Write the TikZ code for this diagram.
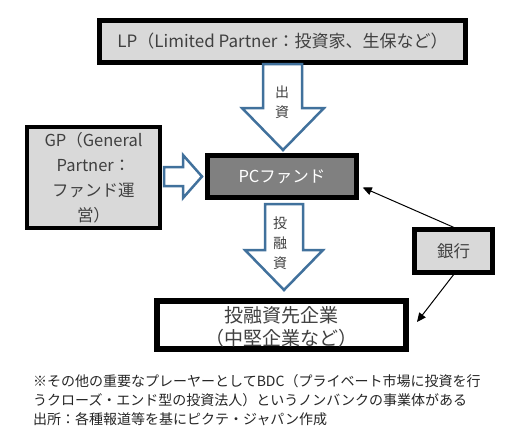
\documentclass[tikz,border=0pt]{standalone}
\usepackage{fontspec}
\setmainfont{Noto Sans CJK JP}
\usetikzlibrary{arrows.meta,calc}
\definecolor{txt}{HTML}{404040}
\definecolor{arrowblue}{HTML}{41719C}
\definecolor{boxgray}{HTML}{D9D9D9}
\definecolor{pcgray}{HTML}{808080}
\begin{document}
\begin{tikzpicture}[x=1pt,y=-1pt,
  box/.style={draw=black,line width=4.5pt,inner sep=0pt,align=center,text=txt,font=\fontsize{16.5}{25}\selectfont},
  blockarrow/.style={draw=arrowblue,fill=white,line width=2.5pt,line join=miter},
  arrowlabel/.style={text=txt,font=\fontsize{14}{20}\selectfont,align=center,inner sep=0pt},
  note/.style={anchor=west,inner sep=0pt,text=black!85,font=\fontsize{14}{17}\selectfont},
  conn/.style={line width=1pt,-{Triangle[length=9pt,width=8pt]}}]
\useasboundingbox (0,0) rectangle (515,437);
\fill[white] (0,0) rectangle (515,437);
% boxes
\node[box,fill=boxgray,minimum width=366pt,minimum height=42pt,font=\fontsize{17}{25}\selectfont] (lp) at (282.5,41.5) {LP（Limited Partner：投資家、生保など）};
\node[box,fill=pcgray,text=white,minimum width=149pt,minimum height=42pt] (pc) at (282,176.5) {PCファンド};
\node[box,fill=boxgray,line width=4pt,minimum width=133pt,minimum height=101pt] (gp) at (93.5,177.5) {GP（General\\Partner：\\ファンド運\\営）};
\node[box,fill=boxgray,minimum width=78pt,minimum height=43pt] (bank) at (453.5,251) {銀行};
\node[box,fill=white,line width=4pt,minimum width=247pt,minimum height=46pt] (firm) at (281.5,325) {};
\node[text=txt,align=center,inner sep=0pt,font=\fontsize{19}{23}\selectfont] (firmtext) at (281.5,327) {投融資先企業\\（中堅企業など）};
\draw[line width=4pt] (firm.north west) rectangle (firm.south east);
% block arrows
\draw[blockarrow] (263,64) -- (302,64) -- (302,108) -- (324,108) -- (283,150) -- (242,108) -- (263,108) -- cycle;
\node[arrowlabel] (l1) at (282,102) {出\\資};
\draw[blockarrow] (164,167) -- (183,167) -- (183,155) -- (202,176.5) -- (183,198) -- (183,186) -- (164,186) -- cycle;
\draw[blockarrow] (265,204) -- (303,204) -- (303,250) -- (323,250) -- (284,290) -- (245,250) -- (265,250) -- cycle;
\node[arrowlabel] (l2) at (280,243) {投\\融\\資};
% connectors
\draw[conn] (bank.north) -- ([xshift=4pt,yshift=-11pt]pc.east);
\draw[conn] (bank.south) -- ([xshift=10pt,yshift=3pt]firm.east);
% notes
\node[note] (n1) at (33,381) {※その他の重要なプレーヤーとしてBDC（プライベート市場に投資を行};
\node[note] (n2) at (33,400) {うクローズ・エンド型の投資法人）というノンバンクの事業体がある};
\node[note] (n3) at (33,419) {出所：各種報道等を基にピクテ・ジャパン作成};
\end{tikzpicture}
\end{document}
